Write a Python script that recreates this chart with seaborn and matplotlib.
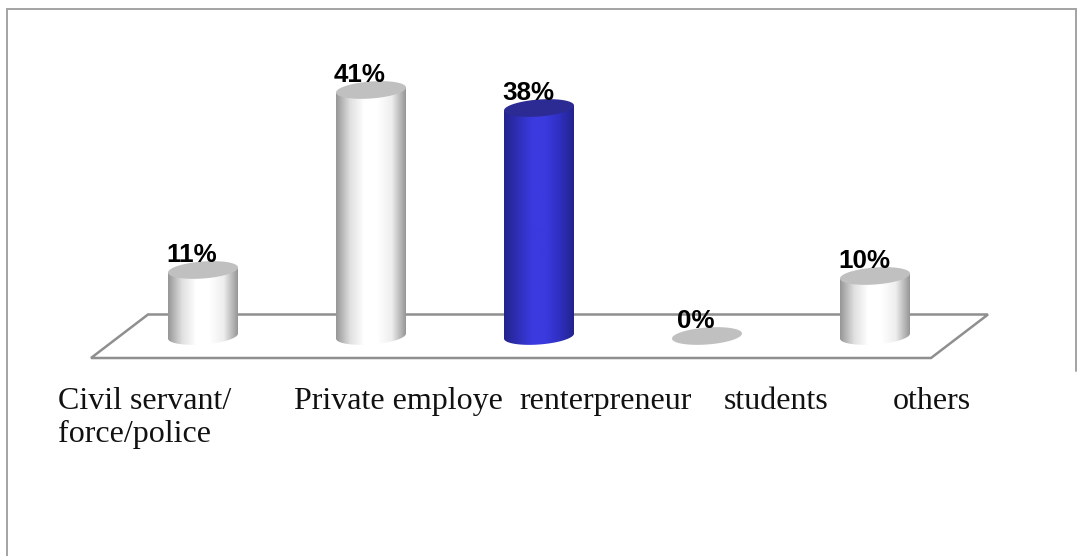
import matplotlib
matplotlib.use('Agg')
import numpy as np
import pandas as pd
import seaborn as sns
import matplotlib.pyplot as plt
from matplotlib.colors import LinearSegmentedColormap
from matplotlib.lines import Line2D
from matplotlib.patches import PathPatch, Polygon
from matplotlib.path import Path

categories = ['Civil servant/\nforce/police', 'Private employe', 'renterpreneur', 'students', 'others']
values = [11, 41, 38, 0, 10]
value_labels = ['11%', '41%', '38%', '0%', '10%']
label_left = [58, 294, 519, 724, 893]
highlight = 'renterpreneur'

W, H = 1077, 556
PX_X = 168.0   # pixels per category
PX_Y = 6.0     # pixels per percent
X0, Y0 = 203.0, 336.0   # pixel of first category / zero line
BAR_W = 70 / PX_X
ELL_H = 17 / PX_Y
TILT = 2.5 / PX_Y

sns.set_theme(style='white')
fig, ax = plt.subplots(figsize=(W / 100, H / 100), dpi=100)
ax.set_position([0, 0, 1, 1])

df = pd.DataFrame({'category': categories, 'value': values})
sns.barplot(data=df, x='category', y='value', width=BAR_W, color='white', ax=ax)
ax.axis('off')


def to_data(x, y):
    # picture pixels, y down, to data coords
    return (x - X0) / PX_X, (Y0 - y) / PX_Y


# frame round the chart, left/top/right only
for xs, ys in [((6.5, 6.5), (H, 8.5)), ((6.5, 1077), (8.5, 8.5)), ((1076, 1076), (8.5, 371))]:
    fig.add_artist(Line2D([x / W for x in xs], [1 - y / H for y in ys], color='#a3a3a3', lw=1.4))

# floor
floor = [to_data(*p) for p in [(91, 358), (148, 314.5), (988, 314.5), (931, 358)]]
ax.add_patch(Polygon(floor, closed=True, fill=False, edgecolor='#8f8f8f', lw=1.8, zorder=1))

white_cm = LinearSegmentedColormap.from_list('w', ['#979797', '#e0e0e0', '#ffffff', '#ffffff', '#eeeeee', '#979797'])
blue_cm = LinearSegmentedColormap.from_list('b', ['#23238c', '#2f2fb8', '#3a3adf', '#3a3adf', '#2f2fc0', '#23238c'])
grad = np.linspace(0, 1, 128).reshape(1, -1)


def ellipse_xy(cx, cy, start=0.0, stop=2 * np.pi):
    # ellipse outline tilted up to the right
    t = np.linspace(start, stop, 80)
    return np.column_stack([cx + BAR_W / 2 * np.cos(t),
                            cy + ELL_H / 2 * np.sin(t) + TILT * np.cos(t)])


for bar, cat in zip(ax.patches, categories):
    bar.set_visible(False)
    left = bar.get_x()
    right = left + bar.get_width()
    cx = (left + right) / 2
    h = bar.get_height()
    is_hi = cat == highlight
    if h > 0:
        # side of the cylinder: up the left edge, over to the right, round the base
        lower = ellipse_xy(cx, 0, 0, -np.pi)
        body = np.vstack([[(right, h + TILT)], lower, [(left, h - TILT)], [(right, h + TILT)]])
        im = ax.imshow(grad, cmap=blue_cm if is_hi else white_cm, aspect='auto',
                       extent=(left, right, -ELL_H, h + TILT), zorder=3)
        clip = PathPatch(Path(body), transform=ax.transData, facecolor='none', edgecolor='none')
        ax.add_patch(clip)
        im.set_clip_path(clip)
    ax.add_patch(Polygon(ellipse_xy(cx, h), closed=True, facecolor='#2b2b93' if is_hi else '#c0c0c0',
                         edgecolor='none', zorder=4))

ax.set_xlim((0 - X0) / PX_X, (W - X0) / PX_X)
ax.set_ylim((Y0 - H) / PX_Y, Y0 / PX_Y)

for i, (val, lab) in enumerate(zip(values, value_labels)):
    ax.annotate(lab, (i, val), xytext=(-8, 5.8), textcoords='offset points', ha='center', va='baseline',
                fontsize=18.7, fontweight='bold', family='Liberation Sans', color='black', zorder=5)

for left_px, cat in zip(label_left, categories):
    ax.text(left_px / W, 1 - 387 / H, cat, transform=ax.transAxes, ha='left', va='top',
            fontsize=23, family='Liberation Serif', color='#111111', linespacing=1.2)

fig.savefig('out.png', dpi=100, facecolor='white')
